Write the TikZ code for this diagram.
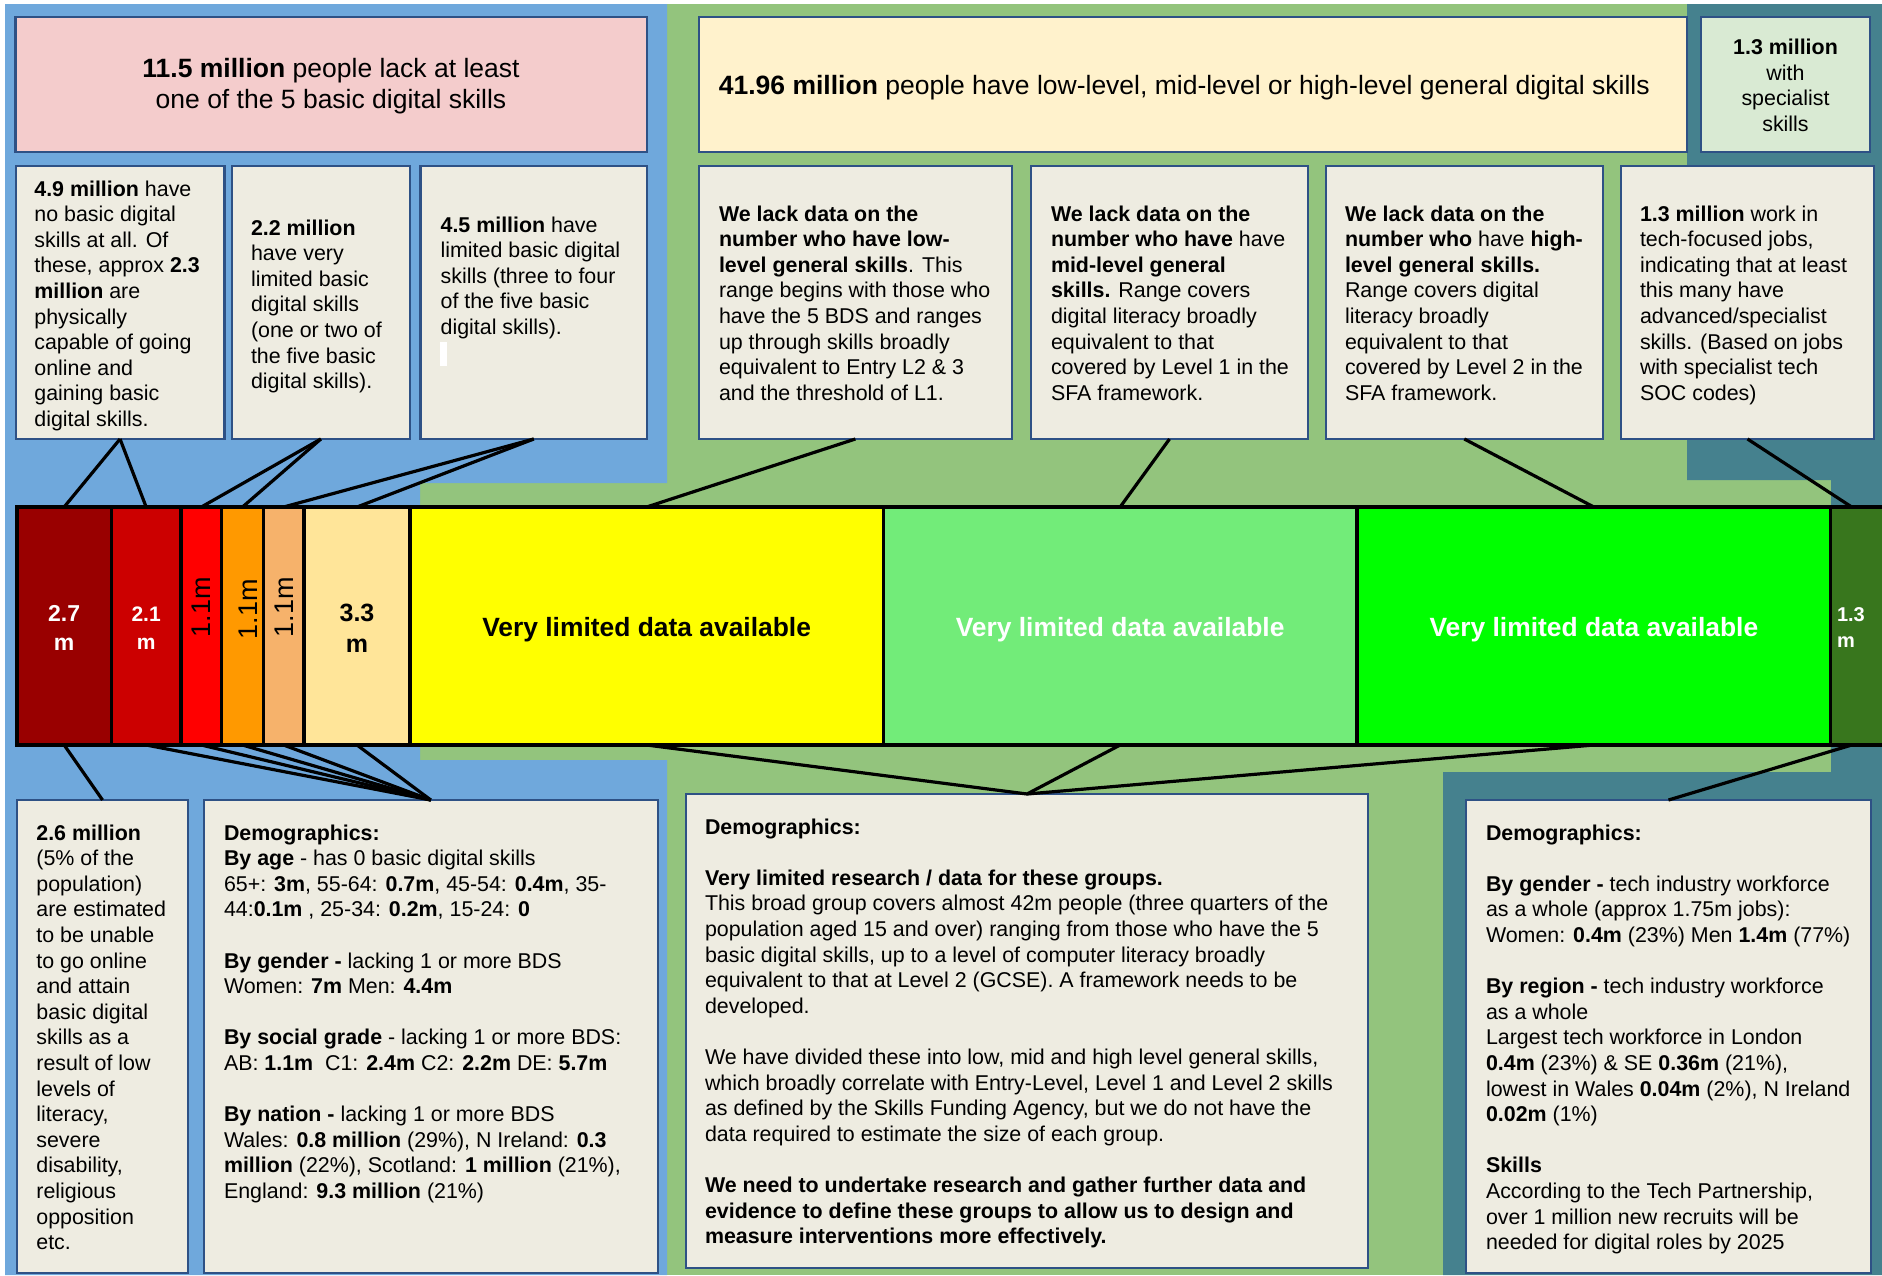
\documentclass[tikz,border=0pt]{standalone}
\usepackage{fontspec}
\setmainfont{Liberation Sans}
\usetikzlibrary{fit}
\definecolor{cblue}{HTML}{6FA8DC}
\definecolor{cgreen}{HTML}{93C47D}
\definecolor{cteal}{HTML}{45818E}
\definecolor{cpink}{HTML}{F4CCCC}
\definecolor{ccream}{HTML}{FFF2CC}
\definecolor{cspec}{HTML}{D9EAD3}
\definecolor{boxfill}{HTML}{EEECE1}
\definecolor{bordercol}{HTML}{2E5185}
\definecolor{kA}{HTML}{990000}
\definecolor{kB}{HTML}{CC0000}
\definecolor{kC}{HTML}{FF0000}
\definecolor{kD}{HTML}{FF9900}
\definecolor{kE}{HTML}{F6B26B}
\definecolor{kF}{HTML}{FFE599}
\definecolor{kG}{HTML}{FFFF00}
\definecolor{kH}{HTML}{72EC79}
\definecolor{kI}{HTML}{00FF00}
\definecolor{kJ}{HTML}{38761D}
\newcommand\bodyfont{\fontsize{21.4}{25.6}\selectfont}
\newcommand\headfont{\fontsize{26.5}{31}\selectfont}
\newcommand\fs{\rule{0pt}{17pt}}
\begin{document}
\begin{tikzpicture}[x=1pt,y=-1pt,
  panel/.style={draw=bordercol, line width=2.2pt, inner sep=0pt, outer sep=0pt},
  seg/.style={draw=black, line width=3.5pt, inner sep=0pt, outer sep=0pt},
  txt/.style={inner sep=0pt, outer sep=0pt, anchor=north west, align=left, font=\bodyfont, text=black},
  conn/.style={draw=black, line width=3.2pt},
  barlbl/.style={inner sep=0pt, outer sep=0pt, align=center},
  vert/.style={inner sep=0pt, outer sep=0pt, rotate=90, font=\fontsize{27}{30}\selectfont, text=black}
]
\useasboundingbox (0,0) rectangle (1882,1275);
% backgrounds
\fill[white] (0,0) rectangle (1882,1275);
\fill[cgreen] (5,4) rectangle (1882,1275);
\fill[cblue] (5,4) -- (667,4) -- (667,483) -- (420,483) -- (420,760) -- (667,760) -- (667,1275) -- (5,1275) -- cycle;
\fill[cteal] (1687,4) -- (1882,4) -- (1882,1275) -- (1443,1275) -- (1443,772) -- (1831,772) -- (1831,480) -- (1687,480) -- cycle;

% top headings
\node[panel, fill=cpink, fit={(15.5,17) (647,152)}] (bPink) {};
\node[panel, fill=ccream, fit={(698.7,17) (1687,152)}] (bCream) {};
\node[panel, fill=cspec, fit={(1701,17) (1870,152)}] (bSpec) {};
\node[inner sep=0pt, align=center, font=\headfont] (tPink) at (331,86) {\textbf{11.5 million} people lack at least\\one of the 5 basic digital skills};
\node[inner sep=0pt, anchor=west, font=\headfont] (tCream) at ([xshift=20pt,yshift=-3.5pt]bCream.west) {\textbf{41.96 million} people have low-level, mid-level or high-level general digital skills};
\node[inner sep=0pt, align=center, font=\bodyfont] (tSpec) at ([yshift=-1pt]bSpec.center) {\textbf{1.3 million}\\with\\specialist\\skills};

% second row boxes
\node[panel, fill=boxfill, fit={(15.6,166) (224.5,439)}] (bA) {};
\node[panel, fill=boxfill, fit={(231.7,166) (410,439)}] (bB) {};
\node[panel, fill=boxfill, fit={(420.5,166) (647,439)}] (bC) {};
\node[panel, fill=boxfill, fit={(698.7,166) (1012,439)}] (bD) {};
\node[panel, fill=boxfill, fit={(1031,166) (1308,439)}] (bE) {};
\node[panel, fill=boxfill, fit={(1325.6,166) (1603,439)}] (bF) {};
\node[panel, fill=boxfill, fit={(1621,166) (1874,439)}] (bG) {};

\node[txt] (tA) at (34.4,179) {\fs\textbf{4.9 million} have\\no basic digital\\skills at all. Of\\these, approx \textbf{2.3}\\\textbf{million} are\\physically\\capable of going\\online and\\gaining basic\\digital skills.};
\node[txt] (tB) at (251,218) {\fs\textbf{2.2 million}\\have very\\limited basic\\digital skills\\(one or two of\\the five basic\\digital skills).};
\node[txt] (tC) at (440.6,215) {\fs\textbf{4.5 million} have\\limited basic digital\\skills (three to four\\of the five basic\\digital skills).};
\fill[white] (440,341.7) rectangle (446.7,365.7);
\node[txt] (tD) at (719,204) {\fs\textbf{We lack data on the}\\\textbf{number who have low-}\\\textbf{level general skills}. This\\range begins with those who\\have the 5 BDS and ranges\\up through skills broadly\\equivalent to Entry L2 \& 3\\and the threshold of L1.};
\node[txt] (tE) at (1051,204) {\fs\textbf{We lack data on the}\\\textbf{number who have} have\\\textbf{mid-level general}\\\textbf{skills.} Range covers\\digital literacy broadly\\equivalent to that\\covered by Level 1 in the\\SFA framework.};
\node[txt] (tF) at (1345,204) {\fs\textbf{We lack data on the}\\\textbf{number who} have \textbf{high-}\\\textbf{level general skills.}\\Range covers digital\\literacy broadly\\equivalent to that\\covered by Level 2 in the\\SFA framework.};
\node[txt] (tG) at (1640,204) {\fs\textbf{1.3 million} work in\\tech-focused jobs,\\indicating that at least\\this many have\\advanced/specialist\\skills. (Based on jobs\\with specialist tech\\SOC codes)};

% bottom boxes
\node[panel, fill=boxfill, fit={(17.3,800) (187.8,1273)}] (bH) {};
\node[panel, fill=boxfill, fit={(203.8,800) (657.8,1273)}] (bI) {};
\node[panel, fill=boxfill, fit={(686,794) (1368,1268)}] (bJ) {};
\node[panel, fill=boxfill, fit={(1466,800) (1871,1273)}] (bK) {};

\node[txt] (tH) at (36.4,823) {\fs\textbf{2.6 million}\\(5\% of the\\population)\\are estimated\\to be unable\\to go online\\and attain\\basic digital\\skills as a\\result of low\\levels of\\literacy,\\severe\\disability,\\religious\\opposition\\etc.};
\node[txt] (tI) at (224,823) {\fs\textbf{Demographics:}\\
\textbf{By age} - has 0 basic digital skills\\
65+: \textbf{3m}, 55-64: \textbf{0.7m}, 45-54: \textbf{0.4m}, 35-\\
44:\textbf{0.1m} , 25-34: \textbf{0.2m}, 15-24: \textbf{0}\\[25.6pt]
\textbf{By gender -} lacking 1 or more BDS\\
Women: \textbf{7m} Men: \textbf{4.4m}\\[25.6pt]
\textbf{By social grade} - lacking 1 or more BDS:\\
AB: \textbf{1.1m}~~C1: \textbf{2.4m} C2: \textbf{2.2m} DE: \textbf{5.7m}\\[25.6pt]
\textbf{By nation -} lacking 1 or more BDS\\
Wales: \textbf{0.8 million} (29\%), N Ireland: \textbf{0.3}\\
\textbf{million} (22\%), Scotland: \textbf{1 million} (21\%),\\
England: \textbf{9.3 million} (21\%)};
\node[txt] (tJ) at (705,817) {\fs\textbf{Demographics:}\\[25.6pt]
\textbf{Very limited research / data for these groups.}\\
This broad group covers almost 42m people (three quarters of the\\
population aged 15 and over) ranging from those who have the 5\\
basic digital skills, up to a level of computer literacy broadly\\
equivalent to that at Level 2 (GCSE). A framework needs to be\\
developed.\\[25.6pt]
We have divided these into low, mid and high level general skills,\\
which broadly correlate with Entry-Level, Level 1 and Level 2 skills\\
as defined by the Skills Funding Agency, but we do not have the\\
data required to estimate the size of each group.\\[25.6pt]
\textbf{We need to undertake research and gather further data and}\\
\textbf{evidence to define these groups to allow us to design and}\\
\textbf{measure interventions more effectively.}};
\node[txt] (tK) at (1486,823) {\fs\textbf{Demographics:}\\[25.6pt]
\textbf{By gender -} tech industry workforce\\
as a whole (approx 1.75m jobs):\\
Women: \textbf{0.4m} (23\%) Men \textbf{1.4m} (77\%)\\[25.6pt]
\textbf{By region -} tech industry workforce\\
as a whole\\
Largest tech workforce in London\\
\textbf{0.4m} (23\%) \& SE \textbf{0.36m} (21\%),\\
lowest in Wales \textbf{0.04m} (2\%), N Ireland\\
\textbf{0.02m} (1\%)\\[25.6pt]
\textbf{Skills}\\
According to the Tech Partnership,\\
over 1 million new recruits will be\\
needed for digital roles by 2025};

% the bar
\node[seg, fill=kA, fit={(17,507) (111.3,745)}] (c1) {};
\node[seg, fill=kB, fit={(111.3,507) (181,745)}] (c2) {};
\node[seg, fill=kC, fit={(181,507) (221.7,745)}] (c3) {};
\node[seg, fill=kD, fit={(221.7,507) (263.3,745)}] (c4) {};
\node[seg, fill=kE, fit={(263.3,507) (304,745)}] (c5) {};
\node[seg, fill=kF, fit={(304,507) (410,745)}] (c6) {};
\node[seg, fill=kG, fit={(410,507) (883.3,745)}] (c7) {};
\node[seg, fill=kH, fit={(883.3,507) (1357,745)}] (c8) {};
\node[seg, fill=kI, fit={(1357,507) (1830.7,745)}] (c9) {};
\node[seg, fill=kJ, fit={(1830.7,507) (1900,745)}] (c10) {};

\node[barlbl, text=white, font=\bfseries\fontsize{23}{29}\selectfont] (l1) at ([yshift=-2pt]c1.center) {2.7\\m};
\node[barlbl, text=white, font=\bfseries\fontsize{21}{28}\selectfont] (l2) at ([yshift=-2pt]c2.center) {2.1\\m};
\node[vert] (l3) at (201,607) {1.1m};
\node[vert] (l4) at (248,609) {1.1m};
\node[vert] (l5) at (284.5,607) {1.1m};
\node[barlbl, text=black, font=\bfseries\fontsize{25}{31}\selectfont] (l6) at ([yshift=-2pt]c6.center) {3.3\\m};
\node[barlbl, text=black, font=\bfseries\fontsize{26.4}{30}\selectfont] (l7) at ([yshift=-3.5pt]c7.center) {Very limited data available};
\node[barlbl, text=white, font=\bfseries\fontsize{26.4}{30}\selectfont] (l8) at ([yshift=-3.5pt]c8.center) {Very limited data available};
\node[barlbl, text=white, font=\bfseries\fontsize{26.4}{30}\selectfont] (l9) at ([yshift=-3.5pt]c9.center) {Very limited data available};
\node[barlbl, anchor=west, align=left, text=white, font=\bfseries\fontsize{20}{26}\selectfont] (l10) at (1837,628) {1.3\\m};

% connectors: boxes above the bar
\draw[conn] (bA.south) -- (c1.north);
\draw[conn] (bA.south) -- (c2.north);
\draw[conn] (bB.south) -- (c3.north);
\draw[conn] (bB.south) -- (c4.north);
\draw[conn] (bC.south) -- (c5.north);
\draw[conn] (bC.south) -- (c6.north);
\draw[conn] (bD.south) -- (c7.north);
\draw[conn] (bE.south) -- (c8.north);
\draw[conn] (bF.south) -- (c9.north);
\draw[conn] (bG.south) -- ([xshift=21pt]c10.north west);
% connectors: bar to boxes below
\draw[conn] (c1.south) -- (bH.north);
\draw[conn] (c2.south) -- (bI.north);
\draw[conn] (c3.south) -- (bI.north);
\draw[conn] (c4.south) -- (bI.north);
\draw[conn] (c5.south) -- (bI.north);
\draw[conn] (c6.south) -- (bI.north);
\draw[conn] (c7.south) -- (bJ.north);
\draw[conn] (c8.south) -- (bJ.north);
\draw[conn] (c9.south) -- (bJ.north);
\draw[conn] ([xshift=21pt]c10.south west) -- (bK.north);
\end{tikzpicture}
\end{document}
